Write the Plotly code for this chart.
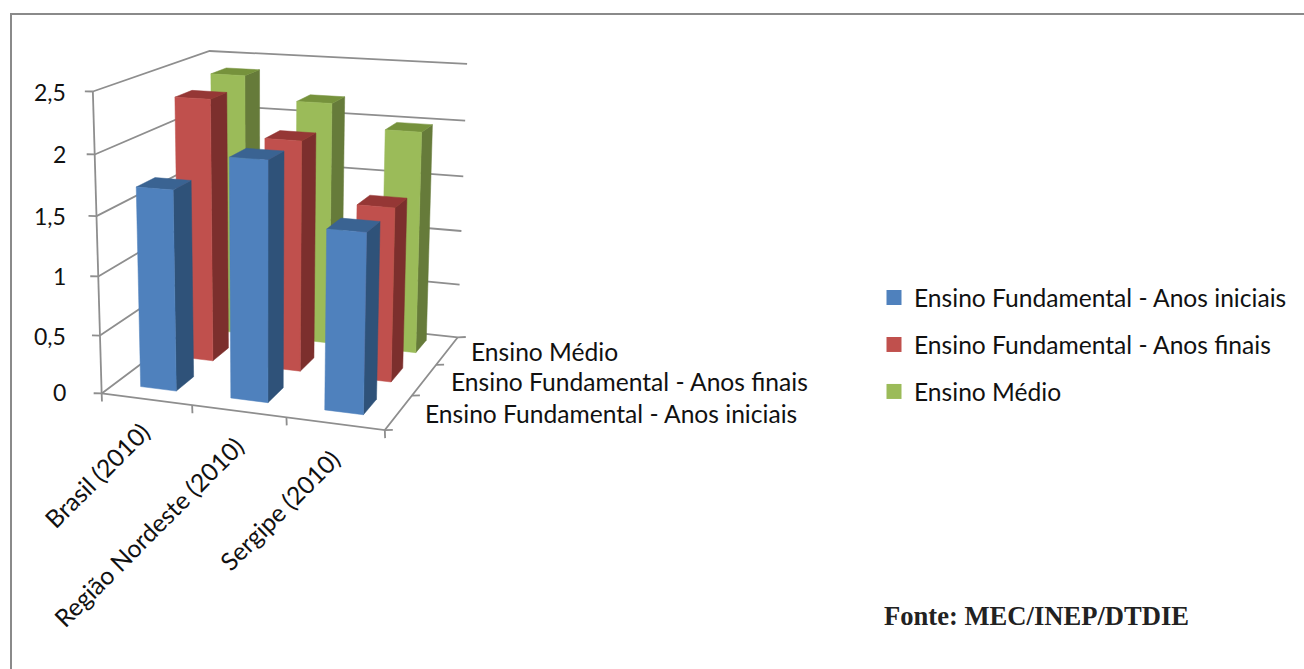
import numpy as np
import plotly.graph_objects as go

categories = ["Brasil (2010)", "Região Nordeste (2010)", "Sergipe (2010)"]
series_names = ["Ensino Fundamental - Anos iniciais", "Ensino Fundamental - Anos finais", "Ensino Médio"]
anos_iniciais = [1.7, 2.0, 1.49]
anos_finais = [2.3, 2.0, 1.5]
ensino_medio = [2.38, 2.18, 1.98]
value_ticks = [0, 0.5, 1, 1.5, 2, 2.5]
value_tick_labels = ["0", "0,5", "1", "1,5", "2", "2,5"]

series_values = [anos_iniciais, anos_finais, ensino_medio]
front = ["#4F81BD", "#C0504D", "#9BBB59"]
side = ["#2F5279", "#7C2F2D", "#667B3A"]
top = ["#3A6392", "#953735", "#76923C"]
GRID = "#8E8E8E"
FONT = "Lato"
VMAX = 2.5

# Camera fit: (category fraction, depth fraction, value) -> pixel, with a weight per point
CAL = [((0, 0, 0), (102.3, 392.7), 1), ((0, 0, 2.5), (92, 91.7), 1), ((1, 0, 0), (385, 430.7), 1),
       ((1, 1, 0), (458, 336.7), 1), ((1, 1, 2.5), (466.7, 64), 1), ((0, 1, 2.5), (210.7, 50.7), 1),
       ((0, 1, 0), (202, 319), 0.3)]
A, b = [], []
for (x, y, z), (u, v), w in CAL:
    A.append([w*t for t in [x, y, z, 1, 0, 0, 0, 0, -u*x, -u*y, -u*z]]); b.append(w*u)
    A.append([w*t for t in [0, 0, 0, 0, x, y, z, 1, -v*x, -v*y, -v*z]]); b.append(w*v)
P = np.append(np.linalg.lstsq(np.array(A, float), np.array(b, float), rcond=None)[0], 1).reshape(3, 4)


def proj(x, y, z):
    p = P @ np.array([x, y, z, 1.0])
    return float(p[0]/p[2]), float(p[1]/p[2])


def path(points):
    pts = [proj(*q) for q in points]
    return [p[0] for p in pts], [p[1] for p in pts]


fig = go.Figure()


def lines(segments, color=GRID, width=1.8):
    xs, ys = [], []
    for seg in segments:
        a, c = path(seg)
        xs += a + [None]; ys += c + [None]
    fig.add_trace(go.Scatter(x=xs, y=ys, mode="lines", line=dict(color=color, width=width),
                             showlegend=False, hoverinfo="skip"))


# walls, floor, ticks
grid = [[(0, 0, v), (0, 1, v), (1, 1, v)] for v in value_ticks]
grid.append([(0, 0, 0), (0, 0, VMAX)])
grid.append([(0, 0, 0), (1, 0, 0), (1, 1, 0)])
lines(grid)
n = len(categories)
tick_xs, tick_ys = [], []
for v in value_ticks:
    x0, y0 = proj(0, 0, v)
    tick_xs += [x0, x0-8, None]; tick_ys += [y0, y0-0.2, None]
for i in range(n+1):
    x0, y0 = proj(i/n, 0, 0)
    tick_xs += [x0, x0+0.3, None]; tick_ys += [y0, y0+8, None]
    x0, y0 = proj(1, i/n, 0)
    tick_xs += [x0, x0+8, None]; tick_ys += [y0, y0-0.3, None]
fig.add_trace(go.Scatter(x=tick_xs, y=tick_ys, mode="lines", line=dict(color=GRID, width=1.8),
                         showlegend=False, hoverinfo="skip"))

BAR_X0, BAR_W = 0.29, 0.4
BAR_D0, BAR_D = 0.32, 0.46


def face(pts, color):
    xs, ys = path(pts + pts[:1])
    fig.add_trace(go.Scatter(x=xs, y=ys, mode="lines", fill="toself", fillcolor=color,
                             line=dict(color=color, width=0.5), showlegend=False, hoverinfo="skip"))


for s in [2, 1, 0]:
    for c in range(n):
        val = series_values[s][c]
        x0, x1 = (c+BAR_X0)/n, (c+BAR_X0+BAR_W)/n
        y0, y1 = (s+BAR_D0)/n, (s+BAR_D0+BAR_D)/n
        face([(x1, y0, 0), (x1, y1, 0), (x1, y1, val), (x1, y0, val)], side[s])
        face([(x0, y0, val), (x1, y0, val), (x1, y1, val), (x0, y1, val)], top[s])
        face([(x0, y0, 0), (x1, y0, 0), (x1, y0, val), (x0, y0, val)], front[s])

for s in range(3):
    fig.add_trace(go.Scatter(x=[None], y=[None], mode="markers", name=series_names[s], legendgroup=str(s),
                             marker=dict(symbol="square", size=15, color=front[s])))

annotations = []


def text(x, y, t, anchor="center", angle=0, size=24.6, family=FONT, bold=False, color="#111111"):
    annotations.append(dict(x=x, y=y, xref="x", yref="y", text=f"<b>{t}</b>" if bold else t, showarrow=False,
                            xanchor=anchor, yanchor="middle", textangle=angle,
                            font=dict(family=family, size=size, color=color)))


for v, lab, yy in zip(value_ticks, value_tick_labels, [392, 336, 276, 216, 154, 92]):
    text(68, yy, lab, anchor="right", size=23)
for lab, cx, cy in zip(categories, [96.5, 148, 279], [475, 532, 510]):
    text(cx, cy, lab, angle=-45)
for lab, lx, ly in zip(series_names, [422.5, 448.5, 468.5], [413, 381, 351]):
    text(lx, ly, lab, anchor="left")
text(882, 616, "Fonte: MEC/INEP/DTDIE", anchor="left", size=26.6, family="Liberation Serif", bold=True, color="#222222")

fig.update_layout(
    width=1304, height=669, margin=dict(l=0, r=0, t=0, b=0), paper_bgcolor="white", plot_bgcolor="white",
    xaxis=dict(range=[0, 1304], visible=False, fixedrange=True),
    yaxis=dict(range=[669, 0], visible=False, fixedrange=True),
    annotations=annotations,
    legend=dict(x=874/1304, y=1-275/669, xanchor="left", yanchor="top", tracegroupgap=12,
                font=dict(family=FONT, size=24.6, color="#111111"), bgcolor="rgba(0,0,0,0)"),
    shapes=[dict(type="line", xref="x", yref="y", x0=11, x1=11, y0=13, y1=669, line=dict(color="#8A8A8A", width=2)),
            dict(type="line", xref="x", yref="y", x0=10, x1=1304, y0=14, y1=14, line=dict(color="#8A8A8A", width=2))],
)
fig.write_html("out.html", config=dict(displayModeBar=False),
               post_script="document.body.style.margin='0';document.documentElement.style.overflow='hidden';")
